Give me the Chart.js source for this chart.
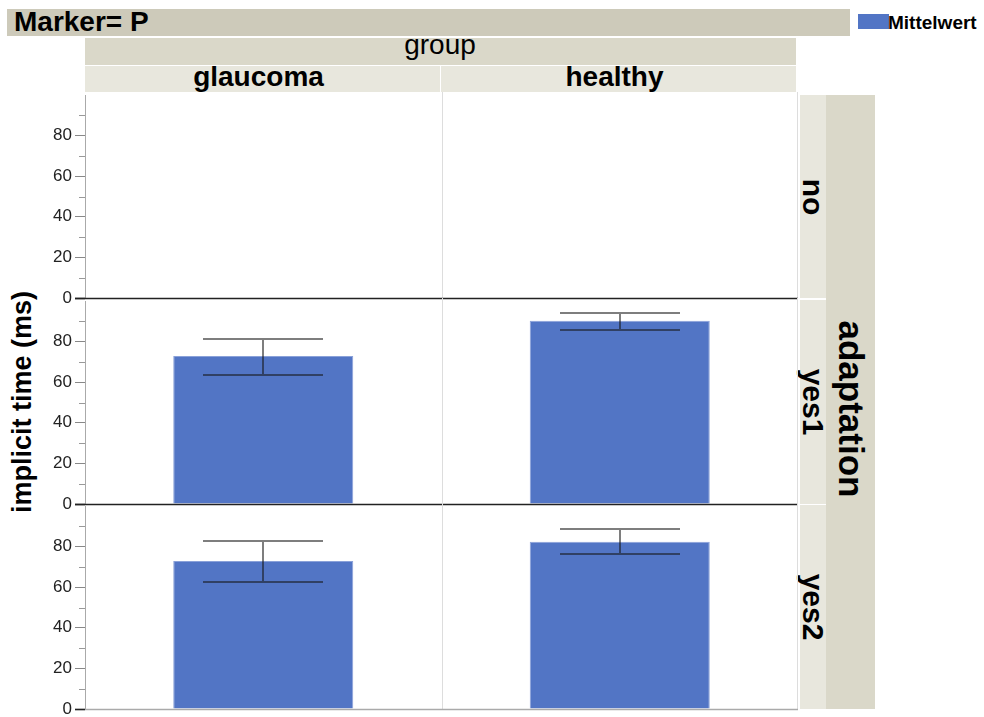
<!DOCTYPE html>
<html>
<head>
<meta charset="utf-8">
<script src="https://cdn.jsdelivr.net/npm/chart.js@4/dist/chart.umd.min.js"></script>
<style>
  body { margin: 0; background: #fff; font-family: "Liberation Sans", Arial, sans-serif; }
  #page { position: relative; width: 984px; height: 717px; overflow: hidden; }
  .box { position: absolute; }
  .txt { position: absolute; white-space: nowrap; color: #000; }
  .rot { position: absolute; white-space: nowrap; color: #000; transform: translate(-50%, -50%) rotate(90deg); }
  canvas { position: absolute; }
</style>
</head>
<body>
<div id="page">
  <div class="box" style="left:7px;top:9px;width:843px;height:27px;background:#cdcaba"></div>
  <div class="txt" style="left:14px;top:8px;font:bold 28px/28px 'Liberation Sans'">Marker= P</div>
  <div class="box" style="left:858px;top:14px;width:31px;height:15px;background:#5275c5"></div>
  <div class="txt" style="left:888px;top:13px;font:bold 19px/19px 'Liberation Sans'">Mittelwert</div>
  <div class="box" style="left:85px;top:38px;width:711px;height:27px;background:#dad8c9"></div>
  <div class="txt" style="left:440px;top:31px;transform:translateX(-50%);font:28px/28px 'Liberation Sans'">group</div>
  <div class="txt" style="left:22px;top:402px;transform:translate(-50%,-50%) rotate(-90deg);font:bold 27px/27px 'Liberation Sans'">implicit time (ms)</div>
  <div class="box" style="left:826px;top:95px;width:49px;height:614px;background:#dad8c9"></div>
  <div class="rot" style="left:851px;top:409px;font:bold 35px/35px 'Liberation Sans'">adaptation</div>
</div>
<script>
// data
const groups = ['glaucoma', 'healthy'];
const adaptation = ['no', 'yes1', 'yes2'];
const meanGlaucoma = [null, 72.9, 72.9];
const meanHealthy = [null, 90.3, 82.4];
const upperGlaucoma = [null, 81.4, 82.9];
const lowerGlaucoma = [null, 63.7, 62.4];
const upperHealthy = [null, 94.2, 88.5];
const lowerHealthy = [null, 85.9, 76.2];
const yTicks = [0, 20, 40, 60, 80];
const yMinor = [10, 30, 50, 70, 90];

const page = document.getElementById('page');
const PLOT_LEFT = 85, PLOT_RIGHT = 798, ROW_H = 203, PAD = 16;
const rowBottoms = [298, 504, 709];
const BAR_COLOR = '#5275c5';

// column header strip
const colMid = 440;
[[85, colMid - 85], [colMid + 1, 796 - colMid - 1]].forEach(([l, w], i) => {
    const b = document.createElement('div');
    b.className = 'box';
    b.style.cssText = `left:${l}px;top:66px;width:${w}px;height:26px;background:#e8e7dd`;
    page.appendChild(b);
    const t = document.createElement('div');
    t.className = 'txt';
    t.textContent = groups[i];
    t.style.cssText = `left:${l + w / 2 - 4}px;top:63px;transform:translateX(-50%);font:bold 28px/28px 'Liberation Sans'`;
    page.appendChild(t);
});

// row strips
adaptation.forEach((name, r) => {
    const bottom = rowBottoms[r], top = bottom - ROW_H + (r === 0 ? 0 : -1);
    const b = document.createElement('div');
    b.className = 'box';
    b.style.cssText = `left:800px;top:${top}px;width:26px;height:${bottom - top}px;background:#e8e7dd`;
    page.appendChild(b);
    const t = document.createElement('div');
    t.className = 'rot';
    t.textContent = name;
    t.style.cssText = `left:813px;top:${(top + bottom) / 2}px;font:bold 30px/30px 'Liberation Sans'`;
    page.appendChild(t);
});

const trellisPlugin = {
    id: 'trellis',
    beforeDatasetsDraw(chart, args, opts) {
        const { ctx, chartArea: a, scales: { x, y } } = chart;
        const mid = Math.round((x.getPixelForValue(0) + x.getPixelForValue(1)) / 2) + 0.5;
        ctx.save();
        ctx.lineWidth = 1;
        ctx.strokeStyle = '#dddddd';
        ctx.beginPath();
        ctx.moveTo(mid, a.top - 3);
        ctx.lineTo(mid, a.bottom);
        ctx.moveTo(a.right - 0.5, a.top - 3);
        ctx.lineTo(a.right - 0.5, a.bottom);
        ctx.stroke();
        // minor ticks
        ctx.strokeStyle = '#999999';
        ctx.beginPath();
        yMinor.forEach(v => {
            const py = Math.round(y.getPixelForValue(v)) + 0.5;
            ctx.moveTo(a.left - 6, py);
            ctx.lineTo(a.left, py);
        });
        ctx.stroke();
        ctx.restore();
    },
    afterDatasetsDraw(chart, args, opts) {
        const { ctx, chartArea: a, scales: { x, y } } = chart;
        ctx.save();
        // error bars
        ctx.lineWidth = 2;
        ctx.strokeStyle = 'rgba(20,20,20,0.55)';
        opts.upper.forEach((hi, i) => {
            const lo = opts.lower[i];
            if (hi == null) return;
            const px = Math.round(x.getPixelForValue(i));
            const yHi = Math.round(y.getPixelForValue(hi));
            const yLo = Math.round(y.getPixelForValue(lo));
            ctx.beginPath();
            ctx.moveTo(px - 60, yHi); ctx.lineTo(px + 60, yHi);
            ctx.moveTo(px, yHi); ctx.lineTo(px, yLo);
            ctx.moveTo(px - 60, yLo); ctx.lineTo(px + 60, yLo);
            ctx.stroke();
        });
        // zero line
        const y0 = Math.round(y.getPixelForValue(0)) + 0.5;
        ctx.lineWidth = 1.5;
        ctx.strokeStyle = opts.last ? '#aaaaaa' : '#222222';
        ctx.beginPath();
        ctx.moveTo(a.left - 10, y0);
        ctx.lineTo(a.right, y0);
        ctx.stroke();
        ctx.strokeStyle = '#222222';
        ctx.beginPath();
        ctx.moveTo(a.left - 10, y0);
        ctx.lineTo(a.left, y0);
        ctx.stroke();
        ctx.restore();
    }
};

adaptation.forEach((name, r) => {
    const cv = document.createElement('canvas');
    cv.width = PLOT_RIGHT - 30;
    cv.height = ROW_H + 2 * PAD;
    cv.style.left = '30px';
    cv.style.top = (rowBottoms[r] - ROW_H - PAD) + 'px';
    page.appendChild(cv);

    new Chart(cv.getContext('2d'), {
        type: 'bar',
        data: {
            labels: groups,
            datasets: [{
                label: 'Mittelwert',
                data: [meanGlaucoma[r], meanHealthy[r]],
                backgroundColor: BAR_COLOR,
                borderColor: '#8aa1d9',
                borderWidth: 1,
                barPercentage: 0.505,
                categoryPercentage: 1
            }]
        },
        options: {
            responsive: false,
            animation: false,
            devicePixelRatio: 1,
            layout: { padding: { top: PAD, bottom: PAD, left: 0, right: 0 } },
            plugins: {
                legend: { display: false },
                tooltip: { enabled: false },
                trellis: {
                    upper: [upperGlaucoma[r], upperHealthy[r]],
                    lower: [lowerGlaucoma[r], lowerHealthy[r]],
                    last: r === adaptation.length - 1
                }
            },
            scales: {
                x: { display: false },
                y: {
                    min: 0,
                    max: 100,
                    afterFit: s => { s.width = PLOT_LEFT - 30; },
                    ticks: {
                        stepSize: 10,
                        padding: 3,
                        color: '#222',
                        font: { family: 'Liberation Sans', size: 17 },
                        callback: v => yTicks.includes(v) ? String(v) : ''
                    },
                    grid: {
                        drawOnChartArea: false,
                        tickLength: 10,
                        tickColor: c => yTicks.includes(c.tick.value) ? '#888' : 'transparent'
                    },
                    border: { color: '#aaaaaa' }
                }
            }
        },
        plugins: [trellisPlugin]
    });
});
</script>
</body>
</html>
